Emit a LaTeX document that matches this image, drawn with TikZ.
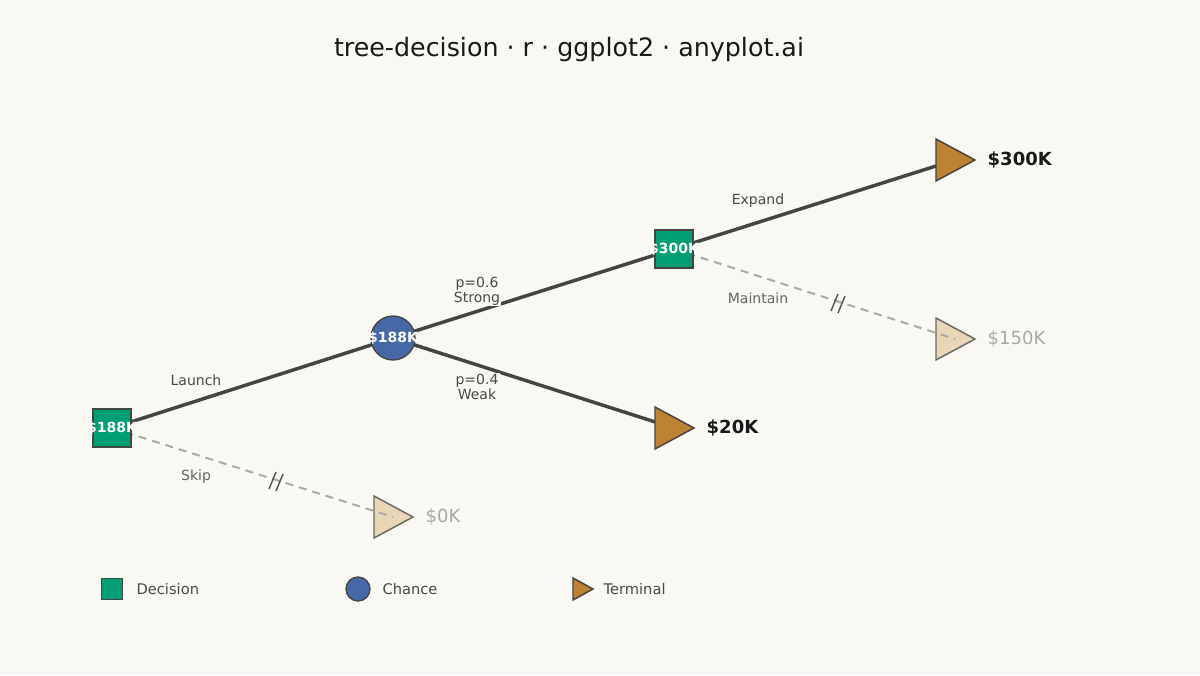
\documentclass[tikz,border=0pt]{standalone}
\usepackage{fontspec}
\setmainfont{DejaVu Sans}
\usetikzlibrary{calc}
\definecolor{bg}{HTML}{FAF8F2}
\definecolor{dec}{HTML}{009E73}
\definecolor{cha}{HTML}{4668A6}
\definecolor{ter}{HTML}{BD8233}
\definecolor{terf}{HTML}{E8D6B6}
\definecolor{edge}{HTML}{444441}
\definecolor{dash}{HTML}{AAAAA6}
\definecolor{fade}{HTML}{A8A8A4}
\definecolor{lab}{HTML}{4A4A48}
\begin{document}
\begin{tikzpicture}[x=0.75pt,y=-0.75pt,
 val/.style={label={[text=white,font=\bfseries\fontsize{10.5}{12}\selectfont,inner sep=0]center:#1}},
 decn/.style={draw=edge,fill=dec,line width=1pt,minimum size=28.5pt,inner sep=0},
 chan/.style={circle,draw=edge,fill=cha,line width=1pt,minimum size=33pt,inner sep=0},
 solid edge/.style={draw=edge,line width=2.6pt},
 dash edge/.style={draw=dash,line width=1.5pt,dash pattern=on 6pt off 4.5pt},
 lbl/.style={fill=bg,inner sep=1pt,text=lab,font=\fontsize{10.5}{11}\selectfont,align=center},
 tri/.style={draw=edge,line width=1.1pt,fill=ter,line join=miter},
 trif/.style={draw=edge!80,line width=1.1pt,fill=terf},
 tick/.style={draw=edge!90,line width=1.1pt}]
\fill[bg] (0,0) rectangle (1200,675);
\node[font=\fontsize{19}{22}\selectfont,text=black!90] (title) at (569,50) {tree-decision · r · ggplot2 · anyplot.ai};
\coordinate (t300) at (955,160);
\coordinate (t150) at (955,339);
\coordinate (t20) at (674,428);
\coordinate (t0) at (393,517);
\path[solid edge] (112,428) coordinate (r0) -- (393,338) coordinate (c0);
\path[solid edge] (c0) -- (674,249) coordinate (d0);
\path[solid edge] (c0) -- (t20);
\path[solid edge] (d0) -- (t300);
\foreach \t in {t300,t20}{\draw[tri] ($(\t)+(-19,-21)$) -- ($(\t)+(20,0)$) -- ($(\t)+(-19,21)$) -- cycle;}
\foreach \t in {t150,t0}{\draw[trif] ($(\t)+(-19,-21)$) -- ($(\t)+(20,0)$) -- ($(\t)+(-19,21)$) -- cycle;}
\path[dash edge] (r0) -- (t0);
\path[dash edge] (d0) -- (t150);
\draw[tick] (269,489) -- (276,472);
\draw[tick] (276,491) -- (283,474);
\draw[tick] (831,311) -- (838,294);
\draw[tick] (838,313) -- (845,296);
\node[decn,val=\$188K] (root) at (r0) {};
\node[chan,val=\$188K] (chance) at (c0) {};
\node[decn,val=\$300K] (dec2) at (d0) {};
\node[anchor=west,font=\bfseries\fontsize{13.5}{15}\selectfont,text=black!90] (v300) at (983,160) {\$300K};
\node[anchor=west,font=\bfseries\fontsize{13.5}{15}\selectfont,text=black!90] (v20) at (702,428) {\$20K};
\node[anchor=west,font=\fontsize{13.5}{15}\selectfont,text=fade] (v150) at (983,339) {\$150K};
\node[anchor=west,font=\fontsize{13.5}{15}\selectfont,text=fade] (v0) at (421,517) {\$0K};
\node[lbl] (lLaunch) at (196,380) {Launch};
\node[lbl,text=lab!85] (lSkip) at (196,477) {Skip};
\node[lbl] (lStrong) at (477,291) {p=0.6\\Strong};
\node[lbl] (lWeak) at (477,387) {p=0.4\\Weak};
\node[lbl] (lExpand) at (758,201) {Expand};
\node[lbl,text=lab!85] (lMaintain) at (758,298) {Maintain};
\node[draw=edge,fill=dec,line width=1pt,minimum size=15.5pt,inner sep=0] (legD) at (112,589) {};
\node[anchor=west,lbl,font=\fontsize{11}{12}\selectfont] (legDt) at (135,589) {Decision};
\node[circle,draw=edge,fill=cha,line width=1pt,minimum size=18pt,inner sep=0] (legC) at (358,589) {};
\node[anchor=west,lbl,font=\fontsize{11}{12}\selectfont] (legCt) at (381,589) {Chance};
\coordinate (legT) at (580,589);
\draw[tri] ($(legT)+(-7,-11)$) -- ($(legT)+(13,0)$) -- ($(legT)+(-7,11)$) -- cycle;
\node[anchor=west,lbl,font=\fontsize{11}{12}\selectfont] (legTt) at (602,589) {Terminal};
\end{tikzpicture}
\end{document}
